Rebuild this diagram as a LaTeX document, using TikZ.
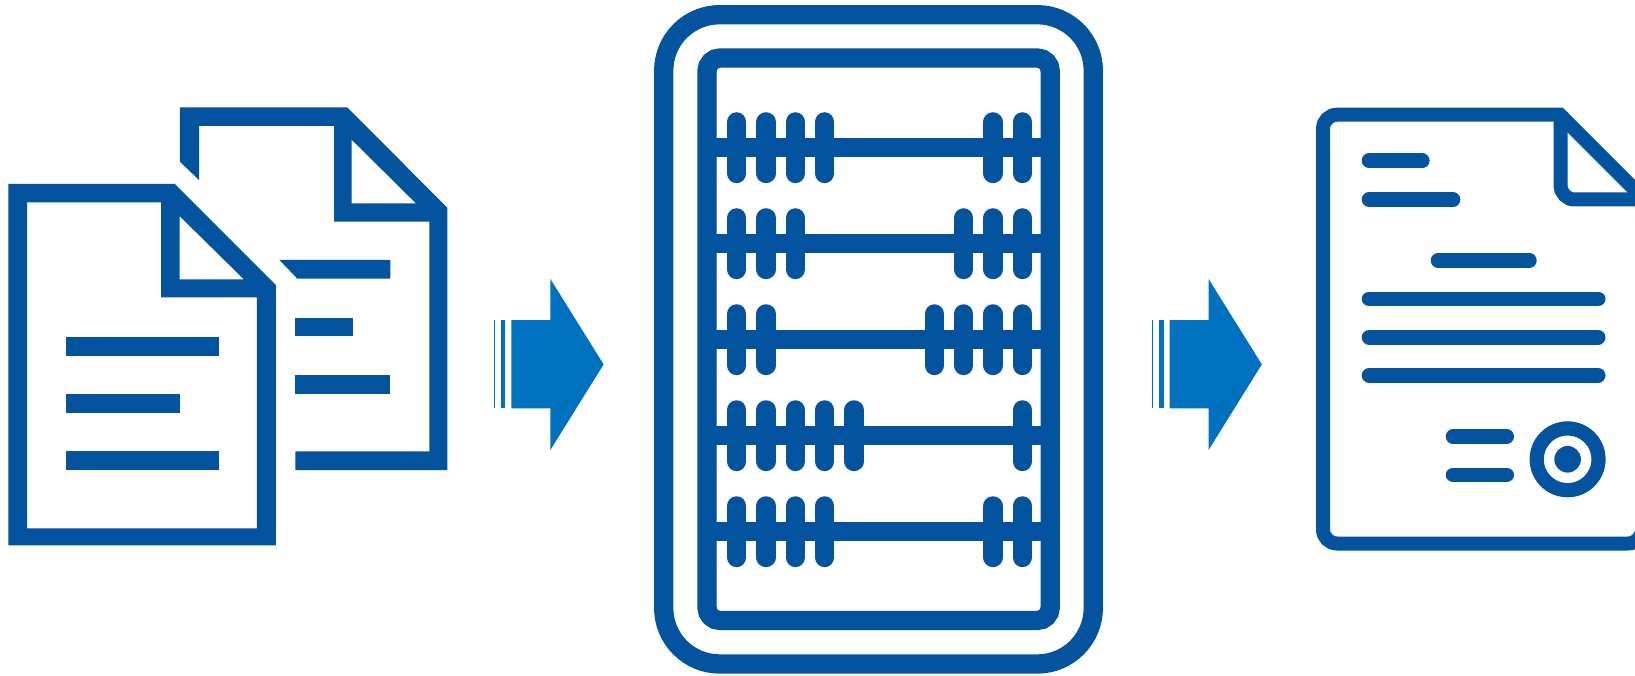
\documentclass[tikz,border=0pt]{standalone}
\definecolor{docblue}{RGB}{3,83,158}
\definecolor{arrowblue}{RGB}{0,113,191}
\tikzset{
  iconfill/.style={fill=docblue,draw=none},
  arrowfill/.style={fill=arrowblue,draw=none},
  rimline/.style={draw=docblue,line width=19.3pt,rounded corners=56pt},
  framerim/.style={draw=docblue,line width=19.3pt,rounded corners=13pt},
  rodline/.style={draw=docblue,line width=19.3pt},
  beadline/.style={draw=docblue,line width=19.3pt,line cap=round},
  certrim/.style={draw=docblue,line width=14pt,rounded corners=14pt},
  certline/.style={draw=docblue,line width=14.6pt,line cap=round}
}
\begin{document}
\begin{tikzpicture}[x=1pt,y=-1pt]
\useasboundingbox (0,0) rectangle (1635,676);
\clip (0,0) rectangle (1635,676);
\fill[white] (0,0) rectangle (1635,676);
% back document
\fill[iconfill] (179.9,107.3) -- (347.1,107.3) -- (447.4,207.7) -- (447.4,470) -- (295.4,470) -- (295.4,451.3) -- (429.4,451.3) -- (429.4,221.7) -- (334.1,221.7) -- (334.1,126) -- (199,126) -- (199,180) -- (179.9,161.7) -- cycle;
\fill[white] (351.7,140) -- (351.7,203.3) -- (415.6,203.3) -- cycle;
\fill[iconfill] (279.4,260) -- (390.4,260) -- (390.4,278.7) -- (297.4,278.7) -- cycle;
\fill[iconfill] (295.4,317.7) rectangle (352.8,336.3);
\fill[iconfill] (295.4,375) rectangle (390.4,394);
% front document
\fill[iconfill,even odd rule] (8.4,184) -- (174.9,184) -- (275.9,285) -- (275.9,545.4) -- (8.4,545.4) -- cycle
  (27.2,202.3) -- (161.1,202.3) -- (161.1,297.3) -- (256.8,297.3) -- (256.8,528.3) -- (27.2,528.3) -- cycle
  (179.5,216) -- (179.5,279.3) -- (243.8,279.3) -- cycle;
\fill[iconfill] (65.8,336.7) rectangle (218.5,355.7);
\fill[iconfill] (65.8,394) rectangle (179.9,413.3);
\fill[iconfill] (65.8,451.3) rectangle (218.5,470);
% arrows
\foreach \ax in {0,658.2}{
  \fill[arrowfill] (494+\ax,320) rectangle (495+\ax,408.3);
  \fill[arrowfill] (501+\ax,320) rectangle (505.3+\ax,408.3);
  \fill[arrowfill] (511.3+\ax,320) -- (550.4+\ax,320) -- (550.4+\ax,279) -- (603.6+\ax,364.4) -- (550.4+\ax,450) -- (550.4+\ax,408.3) -- (511.3+\ax,408.3) -- cycle;
}
% abacus
\draw[rimline] (663.7,14.7) rectangle (1093.3,664);
\draw[framerim] (707,58) rectangle (1050.2,620.5);
\foreach \ry/\lbeads/\rbeads in {
  147.7/{736.7,766,795.3,824.7}/{993,1022.3},
  243.7/{736.7,766,795.3}/{963.7,993,1022.3},
  339.7/{736.7,766}/{934.3,963.7,993,1022.3},
  435.7/{736.7,766,795.3,824.7,854}/{1022.3},
  531.7/{736.7,766,795.3,824.7}/{993,1022.3}}{
  \draw[rodline] (707,\ry) -- (1050.2,\ry);
  \foreach \bx in \lbeads { \draw[beadline] (\bx,\ry-25.8) -- (\bx,\ry+25.8); }
  \foreach \bx in \rbeads { \draw[beadline] (\bx,\ry-25.8) -- (\bx,\ry+25.8); }
}
% certificate
\draw[certrim] (1562.7,114.7) -- (1323,114.7) -- (1323,543.5) -- (1642,543.5) -- (1642,190);
\draw[certrim] (1560.6,112) -- (1560.6,199.5) -- (1650,199.5);
\fill[iconfill] (1562.7,107.7) -- (1650,195) -- (1650,214.8) -- (1555,119.8) -- cycle;
\draw[certline] (1369,160.8) -- (1422.3,160.8);
\draw[certline] (1369,199.5) -- (1453,199.5);
\draw[certline] (1438,260.5) -- (1529.4,260.5);
\draw[certline] (1369,298.8) -- (1598.2,298.8);
\draw[certline] (1369,337.2) -- (1598.2,337.2);
\draw[certline] (1369,375.2) -- (1598.2,375.2);
\draw[certline] (1453,436.5) -- (1506.7,436.5);
\draw[certline] (1453,474.8) -- (1506.7,474.8);
\draw[draw=docblue,line width=14.2pt] (1567.6,459.3) circle[radius=30.9pt];
\fill[iconfill] (1567.6,459.3) circle[radius=13.3pt];
\end{tikzpicture}
\end{document}
